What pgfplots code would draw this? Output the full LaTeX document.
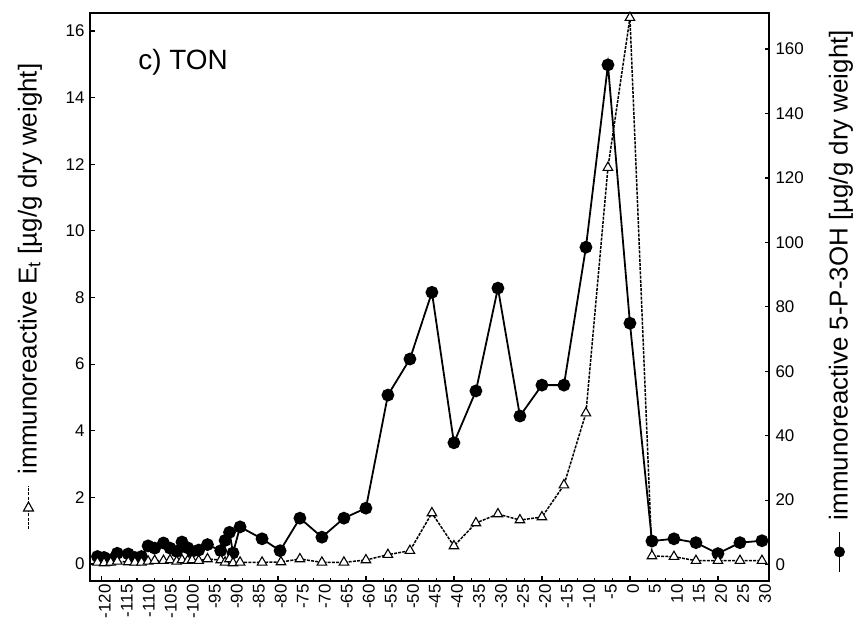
\documentclass[border=0pt]{standalone}
\usepackage{fontspec}
\setmainfont{Liberation Sans}
\usepackage{pgfplots}
\usepackage{pgfplotstable}
\pgfplotsset{compat=1.18}

% immunoreactive 5-P-3OH (right axis)
\pgfplotstableread{
x y
-121 2.5
-119.5 2.2
-118 1.5
-116.5 3.5
-114 3.3
-112.5 2.2
-111 2.5
-109.5 5.8
-108 5.1
-106 6.7
-104.5 5.1
-103 4.1
-101.8 7.0
-100.5 5.2
-99.5 4.1
-98 4.5
-96 6.2
-93 4.3
-92 7.5
-91 10.0
-90.2 3.6
-88.6 11.7
-83.6 8.0
-79.5 4.3
-75 14.4
-70 8.5
-65 14.4
-60 17.5
-55 52.6
-50 63.8
-45 84.5
-40 37.8
-35 53.9
-30 85.8
-25 46.1
-20 55.7
-15 55.7
-10 98.5
-5 155.1
0 74.9
5 7.3
10 8.0
15 6.8
20 3.4
25 6.8
30 7.4
}\pthreeoh

% immunoreactive E_t (left axis)
\pgfplotstableread{
x y
-121 0.05
-119.5 0.03
-118 0.05
-116.5 0.08
-114 0.06
-112.5 0.05
-111 0.05
-109.5 0.08
-108 0.10
-106 0.10
-104.5 0.12
-103 0.08
-101.8 0.12
-100.5 0.10
-99.5 0.12
-98 0.10
-96 0.15
-93 0.12
-92 0.05
-91 0.15
-90.2 0.03
-88.6 0.05
-83.6 0.05
-79.3 0.06
-75 0.15
-70 0.05
-65 0.05
-60 0.12
-55 0.28
-50 0.40
-45 1.53
-40 0.54
-35 1.23
-30 1.50
-25 1.32
-20 1.41
-15 2.37
-10 4.53
-5 11.9
0 16.4
5 0.24
10 0.22
15 0.10
20 0.10
25 0.10
30 0.10
}\etdata

\newcommand{\ticksize}{\fontsize{17}{20}\selectfont}
\newcommand{\labsize}{\fontsize{26}{31}\selectfont}
\tikzset{etline/.style={line width=1.5bp, dash pattern=on 3bp off 1.2bp}}

\begin{document}
\begin{tikzpicture}
\path[use as bounding box] (-90bp,-50bp) rectangle (770bp,581bp);

% right axis: 5-P-3OH
\begin{axis}[
  at={(0,0)}, anchor=south west,
  scale only axis, width=679bp, height=568bp,
  xmin=-122.7, xmax=31.6, ymin=-5.1, ymax=171.2,
  axis x line=none, axis y line*=right,
  axis line style={line width=1.8bp, -},
  ytick={0,20,...,160},
  tick align=inside, major tick length=4.5bp,
  tick style={line width=1.2bp, black},
  yticklabel style={font=\ticksize, xshift=3bp},
  /pgf/number format/assume math mode=true,
  clip=false,
]
\addplot[black, line width=1.8bp, mark=*, mark size=5.5bp, mark options={solid}]
  table[x=x, y=y] {\pthreeoh};
\end{axis}

% left axis: E_t
\begin{axis}[
  at={(0,0)}, anchor=south west,
  scale only axis, width=679bp, height=568bp,
  xmin=-122.7, xmax=31.6, ymin=-0.51, ymax=16.54,
  axis line style={line width=1.8bp},
  ytick={0,2,...,16}, ytick pos=left,
  xtick={-120,-100,...,20}, xtick pos=left,
  xticklabels={},
  minor x tick num=4,
  tick align=inside, major tick length=5.5bp, minor tick length=3bp,
  tick style={line width=1.2bp, black},
  extra x ticks={-120,-115,...,30},
  extra x tick labels={-120,-115,-110,-105,-100,-95,-90,-85,-80,-75,-70,-65,-60,-55,-50,-45,-40,-35,-30,-25,-20,-15,-10,-5,0,5,10,15,20,25,30},
  extra x tick style={major tick length=0pt,
    xticklabel style={font=\ticksize, rotate=90, anchor=east, yshift=-3bp}},
  yticklabel style={font=\ticksize, xshift=-2bp},
  /pgf/number format/assume math mode=true,
  clip=false,
]
\addplot[black, etline,
  mark=triangle*, mark size=5.5bp, mark options={solid, fill=white, line width=1.1bp}]
  table[x=x, y=y] {\etdata};
\node[anchor=west, font=\fontsize{28}{32}\selectfont] at (rel axis cs:0.066,0.913) {c) TON};
\end{axis}

% axis titles, each with its series symbol in front
\node[rotate=90, anchor=west, inner sep=0pt, font=\labsize] at (-60bp,51bp)
  {\tikz[baseline=-0.6ex]{\draw[black, etline] (0bp,0bp)--(43bp,0bp);
     \draw[line width=1.1bp, fill=white] (27bp,0bp)--(18bp,5bp)--(18bp,-5bp)--cycle;}\hspace{11bp}immunoreactive E\textsubscript{t} [µg/g dry weight]};
\node[rotate=90, anchor=west, inner sep=0pt, font=\labsize] at (751bp,8bp)
  {\tikz[baseline=-0.6ex]{\draw[line width=1.8bp] (0bp,0bp)--(40bp,0bp); \fill (20bp,0bp) circle (5.5bp);}\hspace{11bp}immunoreactive 5-P-3OH [µg/g dry weight]};
\end{tikzpicture}
\end{document}
